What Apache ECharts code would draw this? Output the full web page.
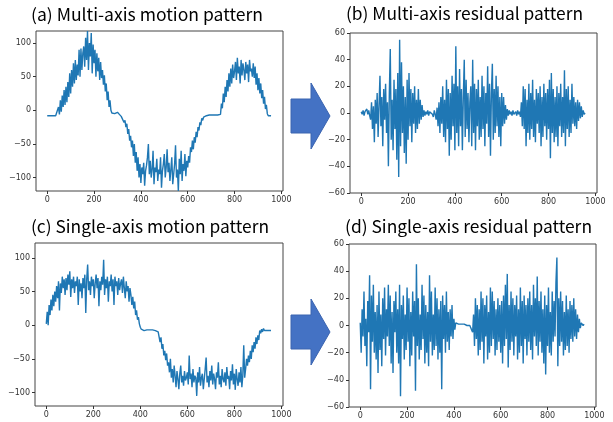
<!DOCTYPE html>
<html>
<head>
<meta charset="utf-8">
<script src="https://cdn.jsdelivr.net/npm/echarts@6/dist/echarts.min.js"></script>
<style>
  html, body { margin: 0; padding: 0; background: #fff; }
  #chart { width: 613px; height: 422px; }
</style>
</head>
<body>
<div id="chart"></div>
<script type="text/javascript">
// sample spacing along the x axis (index units)
var STEP = 4;

var titles = [
  '(a) Multi-axis motion pattern',
  '(b) Multi-axis residual pattern',
  '(c) Single-axis motion pattern',
  '(d) Single-axis residual pattern'
];

var xTicks = [0, 200, 400, 600, 800, 1000];
var motionTicks = [-100, -50, 0, 50, 100];
var residualTicks = [-60, -40, -20, 0, 20, 40, 60];

// (a) multi-axis motion
var multiMotion = [
  -8, -8, -7, -8, -8, -8, -8, -7, -8, -8,
  -8, -7, 5, -6, 15, -2, 22, 5, 30, 8,
  35, 12, 42, 20, 55, 25, 60, 35, 70, 40,
  75, 45, 68, 52, 90, 50, 92, 60, 85, 95,
  65, 108, 75, 118, 60, 100, 80, 115, 55, 98,
  70, 90, 50, 85, 58, 78, 45, 72, 48, 60,
  38, 52, 28, 40, 15, 28, 5, 15, 0, -4,
  -5, -6, -5, -4, -3, -3, -4, -6, -8, -9,
  -12, -10, -18, -15, -25, -20, -35, -28, -45, -38,
  -55, -45, -68, -50, -78, -62, -90, -70, -100, -80,
  -108, -85, -95, -78, -112, -90, -82, -70, -50, -95,
  -75, -100, -88, -60, -110, -85, -92, -72, -105, -88,
  -95, -70, -115, -90, -80, -65, -100, -85, -58, -92,
  -78, -105, -88, -70, -110, -95, -80, -52, -100, -88,
  -120, -72, -95, -60, -105, -80, -90, -65, -98, -75,
  -85, -68, -78, -55, -62, -45, -58, -40, -48, -32,
  -40, -25, -30, -18, -22, -12, -15, -10, -9, -8,
  -8, -7, -8, -7, -7, -6, -7, -8, -7, -7,
  -7, -6, -7, -6, -5, -6, 10, 3, 25, 12,
  35, 20, 45, 28, 55, 35, 62, 40, 68, 48,
  58, 72, 45, 78, 55, 65, 40, 75, 52, 70,
  60, 45, 72, 55, 68, 42, 75, 58, 62, 50,
  70, 48, 65, 38, 55, 30, 48, 25, 40, 18,
  30, 10, 20, 2, 8, -5, -8, -8, -8, -8
];

// (b) multi-axis residual
var multiResidual = [
  1, -1, 2, -2, 1, 0, 3, -1, 2, -2,
  -5, 8, -12, 5, -22, 10, -8, 15, -18, 6,
  28, -10, 12, -25, 18, -5, 22, -15, 8, -40,
  15, 48, -20, 10, -28, 25, -12, 18, -35, 30,
  -48, 55, -25, 38, -15, 20, -30, 12, -38, 25,
  -20, 30, -10, 18, -22, 15, -8, 20, -15, 10,
  -12, 18, -8, 10, -5, 6, -3, 2, -2, 1,
  -1, 2, -2, 1, 0, 2, -1, -3, 2, -1,
  -5, 4, -10, 8, -15, 12, -8, 20, -18, 10,
  -22, 25, -12, 18, -32, 15, -20, 28, -10, 22,
  -28, 50, -15, 20, -25, 33, -10, 18, -28, 12,
  40, -18, 25, -12, 15, -22, 8, 20, -25, 40,
  -15, 22, -28, 18, -10, 25, -20, 12, -18, 28,
  -12, 20, -25, 15, -8, 35, -18, 22, -32, 15,
  37, -20, 18, -15, 28, -10, 20, -18, 12, -25,
  15, -10, 12, -8, 6, -5, 3, -2, 2, -1,
  1, -2, 2, -1, 0, 1, -2, 2, -1, 1,
  -3, 8, -10, 20, -12, 18, -25, 10, -15, 22,
  -20, 15, -12, 25, -18, 10, -22, 18, -8, 15,
  -15, 20, -25, 12, -18, 22, -10, 15, -20, 18,
  -12, 25, -34, 30, -15, 18, -22, 12, -18, 20,
  -25, 15, -10, 22, -18, 12, -15, 32, -25, 18,
  -12, 20, -18, 10, -15, 22, -8, 12, -10, 8,
  -12, 10, -6, 8, -4, 5, -3, 2, -1, 0
];

// (c) single-axis motion
var singleMotion = [
  2, 20, 0, 30, 15, 38, 22, 45, 28, 50,
  35, 58, 40, 65, 22, 62, 48, 72, 55, 68,
  45, 70, 52, 75, 60, 80, 42, 68, 55, 72,
  48, 65, 58, 72, 30, 68, 50, 62, 40, 70,
  55, 75, 18, 68, 90, 52, 65, 45, 72, 58,
  68, 40, 62, 75, 55, 70, 28, 65, 52, 72,
  60, 97, 45, 68, 55, 72, 35, 65, 58, 75,
  50, 68, 30, 72, 58, 65, 45, 70, 52, 62,
  68, 48, 72, 55, 40, 65, 50, 58, 35, 55,
  45, 30, 42, 25, 35, 15, 22, 8, 12, 2,
  -3, -6, -7, -7, -8, -7, -7, -7, -7, -8,
  -7, -7, -8, -7, -7, -7, -8, -7, -8, -10,
  -12, -25, -18, -35, -28, -45, -38, -52, -42, -60,
  -55, -70, -50, -78, -65, -85, -60, -75, -92, -68,
  -80, -95, -72, -60, -85, -75, -90, -68, -82, -78,
  -70, -88, -45, -80, -72, -92, -65, -85, -75, -78,
  -105, -70, -85, -62, -90, -78, -72, -95, -80, -65,
  -48, -85, -75, -92, -68, -82, -60, -88, -72, -80,
  -95, -70, -78, -55, -88, -75, -92, -65, -80, -85,
  -70, -90, -62, -80, -75, -95, -68, -82, -58, -88,
  -72, -96, -65, -80, -90, -70, -85, -62, -92, -75,
  -30, -78, -65, -50, -60, -45, -55, -38, -50, -30,
  -40, -25, -35, -18, -28, -15, -22, -8, -12, -6,
  -10, -5, -8, -8, -8, -8, -8, -8, -8, -8
];

// (d) single-axis residual
var singleResidual = [
  2, -20, 12, -8, 25, -15, 5, -30, 18, -5,
  37, -47, 22, -12, 30, -20, 10, -25, 15, -35,
  25, -18, 8, -30, 20, -10, 28, -22, 12, -8,
  30, -15, 22, -28, 10, -35, 18, -5, 25, -20,
  12, -28, 30, -52, 15, -10, 22, -25, 8, -18,
  28, -12, 20, -30, 10, -22, 25, -8, 18, -48,
  45, -15, 20, -25, 8, -18, 30, -10, 22, -28,
  15, -20, 10, -30, 37, -12, 25, -22, 8, -18,
  28, -15, 20, -25, 12, -20, 18, -47, 22, -10,
  15, -20, 25, -12, 10, -18, 12, -8, 15, -10,
  5, -3, 2, 1, 2, 1, 2, 1, 1, 2,
  1, 1, 2, 1, 0, 1, 1, 0, 1, -1,
  -5, 8, -15, 20, -10, 15, -22, 12, -18, 25,
  -12, 20, -28, 15, -8, 22, -25, 10, -20, 28,
  -15, 25, -10, 18, -22, 12, -18, 20, -12, 15,
  -20, 18, -28, 22, -15, 30, -10, 38, -31, 15,
  -18, 25, -12, 20, -22, 15, -8, 22, -25, 12,
  -20, 28, -15, 18, -28, 22, -10, 15, -22, 20,
  -12, 25, -18, 15, -25, 30, -8, 20, -15, 36,
  -22, 18, -12, 25, -20, 12, -28, 22, -36, 15,
  -15, 28, -20, 10, -22, 25, -12, 18, -8, 32,
  50, -30, 20, -15, 25, -12, 18, -22, 10, -18,
  22, -15, 12, -20, 18, -10, 15, -12, 20, -8,
  12, -10, 8, -5, 5, -2, 2, 1, 0, 1
];

function toPoints(ys) {
  return ys.map(function (y, i) { return [i * STEP, y]; });
}

function minusSign(v) {
  return String(v).replace('-', '\u2212');
}

var labelStyle = { fontFamily: 'DejaVu Sans', fontSize: 8, color: '#333' };

function xAxis(idx) {
  return {
    type: 'value', gridIndex: idx, min: -48, max: 1007,
    axisLine: { show: false, onZero: false },
    splitLine: { show: false },
    axisTick: { show: true, inside: false, length: 3, customValues: xTicks, lineStyle: { color: '#333' } },
    axisLabel: Object.assign({ customValues: xTicks, margin: 5, formatter: minusSign }, labelStyle)
  };
}

function yAxis(idx, min, max, ticks) {
  return {
    type: 'value', gridIndex: idx, min: min, max: max,
    axisLine: { show: false, onZero: false },
    splitLine: { show: false },
    axisTick: { show: true, inside: false, length: 3, customValues: ticks, lineStyle: { color: '#333' } },
    axisLabel: Object.assign({ customValues: ticks, margin: 5, formatter: minusSign }, labelStyle)
  };
}

function line(idx, ys) {
  return {
    type: 'line', xAxisIndex: idx, yAxisIndex: idx,
    data: toPoints(ys), showSymbol: false, silent: true,
    lineStyle: { color: '#1f77b4', width: 1.4 }
  };
}

var gridBase = { show: true, borderColor: '#444', borderWidth: 1, backgroundColor: '#fff' };

// panel titles, squeezed to the width they take in the picture
var TITLE_FONT = '17px "Noto Sans CJK KR"';
var ctx = document.createElement('canvas').getContext('2d');
ctx.font = TITLE_FONT;
function titleAt(text, x, y, width) {
  var w = ctx.measureText(text).width;
  return {
    type: 'text', x: x, y: y, scaleX: width / w, silent: true,
    style: { text: text, font: TITLE_FONT, fill: '#000', textVerticalAlign: 'middle', verticalAlign: 'middle' }
  };
}

// office-style block arrows between the panels
function arrow(y0) {
  return {
    type: 'polygon', silent: true,
    shape: { points: [[291, y0 + 16], [311, y0 + 16], [311, y0], [330, y0 + 33], [311, y0 + 66], [311, y0 + 50], [291, y0 + 50]] },
    style: { fill: '#4472C4', stroke: '#3b64b0', lineWidth: 1 }
  };
}

var chart = echarts.init(document.getElementById('chart'));
var option = {
  animation: false,
  backgroundColor: '#fff',
  grid: [
    Object.assign({ left: 36, top: 31, width: 247, height: 160 }, gridBase),
    Object.assign({ left: 350, top: 33, width: 247, height: 160 }, gridBase),
    Object.assign({ left: 35, top: 243, width: 248, height: 163 }, gridBase),
    Object.assign({ left: 349, top: 244, width: 247, height: 163 }, gridBase)
  ],
  xAxis: [xAxis(0), xAxis(1), xAxis(2), xAxis(3)],
  yAxis: [
    yAxis(0, -120, 118, motionTicks),
    yAxis(1, -60, 60, residualTicks),
    yAxis(2, -120, 122, motionTicks),
    yAxis(3, -60, 60, residualTicks)
  ],
  series: [
    line(0, multiMotion),
    line(1, multiResidual),
    line(2, singleMotion),
    line(3, singleResidual)
  ],
  graphic: [
    titleAt(titles[0], 31, 15, 232),
    titleAt(titles[1], 346, 14, 237),
    titleAt(titles[2], 31, 227, 238),
    titleAt(titles[3], 345, 227, 247),
    arrow(83),
    arrow(299)
  ]
};
chart.setOption(option);
</script>
</body>
</html>
